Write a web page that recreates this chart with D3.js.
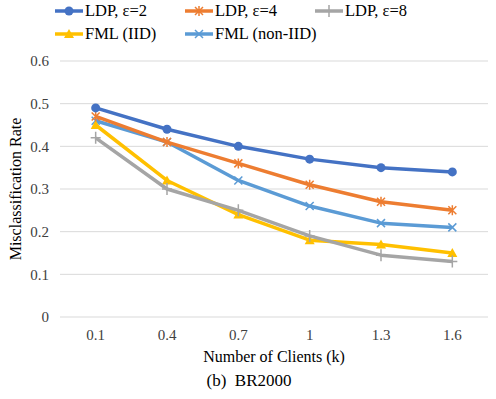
<!DOCTYPE html>
<html><head><meta charset="utf-8">
<script src="https://cdn.jsdelivr.net/npm/d3@7"></script>
<style>body{margin:0;background:#fff;} svg text{font-family:"Liberation Serif","Times New Roman",serif !important;}</style>
</head><body><svg id="c" width="496" height="399"></svg>
<script>
const categories = ["0.1","0.4","0.7","1","1.3","1.6"];
const seriesNames = ["LDP, ε=2","LDP, ε=4","LDP, ε=8","FML (IID)","FML (non-IID)"];
const ldp2 = [0.49,0.44,0.40,0.37,0.35,0.34];
const ldp4 = [0.47,0.41,0.36,0.31,0.27,0.25];
const ldp8 = [0.42,0.30,0.25,0.19,0.145,0.13];
const fmlIID = [0.45,0.32,0.24,0.18,0.17,0.15];
const fmlNonIID = [0.46,0.41,0.32,0.26,0.22,0.21];
const yTicks = [0,0.1,0.2,0.3,0.4,0.5,0.6];
const colors = ["#4472C4","#ED7D31","#A5A5A5","#FFC000","#5B9BD5"];
const markers = ["circle","star","plus","triangle","cross"];
const allSeries = [ldp2,ldp4,ldp8,fmlIID,fmlNonIID];

const svg = d3.select("#c");
const x = d3.scaleBand().domain(categories).range([60,488]);
const y = d3.scaleLinear().domain([0,0.6]).range([317,61]);

svg.append("g").selectAll("line").data(yTicks).join("line")
  .attr("x1",60).attr("x2",488).attr("y1",d=>y(d)).attr("y2",d=>y(d))
  .attr("stroke","#d9d9d9").attr("stroke-width",1);

const yAxis = svg.append("g").attr("transform","translate(52,0)")
  .call(d3.axisLeft(y).tickValues(yTicks).tickFormat(d=>d===0?"0":d3.format(".1f")(d)).tickSize(0));
yAxis.select(".domain").remove();
yAxis.attr("font-family",null).attr("font-size",null);
yAxis.selectAll("text").attr("font-size",15).attr("fill","#404040");

const xAxis = svg.append("g").attr("transform","translate(0,326)")
  .call(d3.axisBottom(x).tickSize(0));
xAxis.select(".domain").remove();
xAxis.attr("font-family",null).attr("font-size",null);
xAxis.selectAll("text").attr("font-size",15).attr("fill","#404040");

svg.append("text").attr("x",274).attr("y",362).attr("text-anchor","middle")
  .attr("font-size",16).attr("fill","#000").text("Number of Clients (k)");
svg.append("text").attr("x",249).attr("y",386).attr("text-anchor","middle")
  .attr("font-size",17).attr("fill","#000").style("white-space","pre").text("(b)  BR2000");
svg.append("text").attr("transform","translate(21,189) rotate(-90)").attr("text-anchor","middle")
  .attr("font-size",16).attr("fill","#000").text("Misclassification Rate");

function drawMarker(g, type, cx, cy, color){
  if(type==="circle"){
    g.append("circle").attr("cx",cx).attr("cy",cy).attr("r",4.5).attr("fill",color);
  } else if(type==="triangle"){
    g.append("path").attr("d",`M${cx},${cy-5}L${cx+5},${cy+4}L${cx-5},${cy+4}Z`).attr("fill",color);
  } else if(type==="plus"){
    g.append("path").attr("d",`M${cx-5},${cy}H${cx+5}M${cx},${cy-6}V${cy+6}`).attr("stroke",color).attr("stroke-width",1.5);
  } else if(type==="cross"){
    g.append("path").attr("d",`M${cx-4},${cy-4}L${cx+4},${cy+4}M${cx+4},${cy-4}L${cx-4},${cy+4}`).attr("stroke",color).attr("stroke-width",1.5);
  } else if(type==="star"){
    g.append("path").attr("d",`M${cx-4},${cy-4}L${cx+4},${cy+4}M${cx+4},${cy-4}L${cx-4},${cy+4}M${cx},${cy-5}V${cy+5}`).attr("stroke",color).attr("stroke-width",1.5);
  }
}

const line = d3.line().x((d,i)=>x(categories[i])+x.bandwidth()/2).y(d=>y(d));
const order = [4,3,2,1,0];
order.forEach(si=>{
  const g = svg.append("g");
  g.append("path").datum(allSeries[si]).attr("d",line).attr("fill","none")
    .attr("stroke",colors[si]).attr("stroke-width",3.5).attr("stroke-linejoin","round");
  allSeries[si].forEach((v,i)=>drawMarker(g,markers[si],x(categories[i])+x.bandwidth()/2,y(v),colors[si]));
});

const legPos = [[55,11],[185,11],[315,11],[55,34],[185,34]];
seriesNames.forEach((n,si)=>{
  const [lx,ly] = legPos[si];
  const g = svg.append("g");
  g.append("line").attr("x1",lx).attr("x2",lx+28).attr("y1",ly).attr("y2",ly)
    .attr("stroke",colors[si]).attr("stroke-width",3.5);
  drawMarker(g,markers[si],lx+14,ly,colors[si]);
  g.append("text").attr("x",lx+30).attr("y",ly+5).attr("font-size",16.5).attr("fill","#000").text(n);
});
</script></body></html>
